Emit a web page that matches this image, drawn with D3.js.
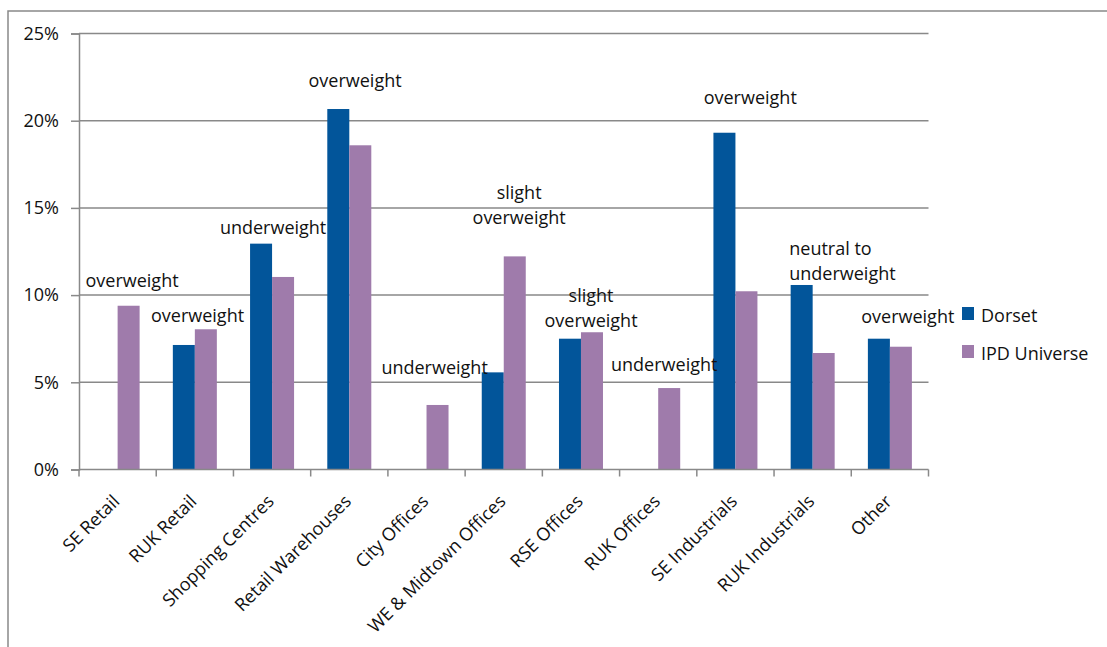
<!DOCTYPE html>
<html>
<head>
<meta charset="utf-8">
<script src="https://cdn.jsdelivr.net/npm/d3@7"></script>
<style>
  html, body { margin: 0; padding: 0; background: #fff; }
  svg { display: block; font-family: "Open Sans", sans-serif; }
</style>
</head>
<body>
<svg id="chart" width="1107" height="647"></svg>
<script>
// Portfolio weights by property sector
const categories = ["SE Retail", "RUK Retail", "Shopping Centres", "Retail Warehouses",
  "City Offices", "WE & Midtown Offices", "RSE Offices", "RUK Offices",
  "SE Industrials", "RUK Industrials", "Other"];
const seriesNames = ["Dorset", "IPD Universe"];
const dorset = [0, 7.14, 12.95, 20.67, 0, 5.57, 7.50, 0, 19.31, 10.58, 7.50];
const ipdUniverse = [9.39, 8.04, 11.04, 18.59, 3.70, 12.22, 7.87, 4.67, 10.22, 6.68, 7.04];
const yTicks = [0, 5, 10, 15, 20, 25];

// Positioning comments: x in category units (0 = left edge of first band), y in percent
const notes = [
  { lines: ["overweight"], x: 0.687, y: 10.87, anchor: "middle" },
  { lines: ["overweight"], x: 1.535, y: 8.86, anchor: "middle" },
  { lines: ["underweight"], x: 2.513, y: 13.90, anchor: "middle" },
  { lines: ["overweight"], x: 3.575, y: 22.33, anchor: "middle" },
  { lines: ["underweight"], x: 4.605, y: 5.89, anchor: "middle" },
  { lines: ["slight", "overweight"], x: 5.699, y: 15.91, anchor: "middle" },
  { lines: ["slight", "overweight"], x: 6.63, y: 10.0, anchor: "middle" },
  { lines: ["underweight"], x: 7.578, y: 6.05, anchor: "middle" },
  { lines: ["overweight"], x: 8.692, y: 21.38, anchor: "middle" },
  { lines: ["neutral to", "underweight"], x: 9.197, y: 12.70, anchor: "start" },
  { lines: ["overweight"], x: 10.732, y: 8.80, anchor: "middle" }
];

const colors = { "Dorset": "#02559a", "IPD Universe": "#9f7bab" };
const gridColor = "#898989";
const textColor = "#111";

const svg = d3.select("#chart");
const plotLeft = 79, plotRight = 928.5, plotTop = 33.5, plotBottom = 469.5;

// Outer chart border
svg.append("path")
  .attr("d", `M8,660 V11 H1120`)
  .attr("fill", "none").attr("stroke", gridColor).attr("stroke-width", 1.5);

const x = d3.scaleBand().domain(categories).range([plotLeft, plotRight]).padding(0);
const xs = d3.scaleBand().domain(seriesNames).range([0, x.bandwidth()]).paddingInner(0).paddingOuter(0.755);
const y = d3.scaleLinear().domain([0, 25]).range([plotBottom, plotTop]);
const xPos = d3.scaleLinear().domain([0, categories.length]).range([plotLeft, plotRight]);

// Horizontal gridlines
svg.append("g")
  .selectAll("line").data(yTicks.filter(t => t > 0)).join("line")
  .attr("x1", plotLeft).attr("x2", plotRight)
  .attr("y1", d => y(d)).attr("y2", d => y(d))
  .attr("stroke", gridColor).attr("stroke-width", 1.5);

// Y axis
const yAxis = svg.append("g").attr("transform", `translate(${plotLeft},0)`)
  .call(d3.axisLeft(y).tickValues(yTicks).tickFormat(d => d + "%").tickSize(8).tickPadding(12));
yAxis.select(".domain").attr("stroke", gridColor).attr("stroke-width", 1.5);
yAxis.selectAll(".tick line").attr("stroke", gridColor).attr("stroke-width", 1.5);
yAxis.selectAll(".tick text").attr("font-size", 18).attr("fill", textColor)
  .attr("font-family", "'Open Sans', sans-serif");

// Bars
const rows = categories.map((c, i) => ({ cat: c, values: [
  { s: "Dorset", v: dorset[i] }, { s: "IPD Universe", v: ipdUniverse[i] }] }));
svg.append("g")
  .selectAll("g").data(rows).join("g")
  .attr("transform", d => `translate(${x(d.cat)},0)`)
  .selectAll("rect").data(d => d.values.filter(e => e.v > 0)).join("rect")
  .attr("x", d => xs(d.s)).attr("width", xs.bandwidth())
  .attr("y", d => y(d.v)).attr("height", d => y(0) - y(d.v))
  .attr("fill", d => colors[d.s]);

// X axis with boundary ticks
const xg = svg.append("g");
xg.append("line").attr("x1", plotLeft).attr("x2", plotRight).attr("y1", plotBottom).attr("y2", plotBottom)
  .attr("stroke", gridColor).attr("stroke-width", 1.5);
xg.selectAll("line.tk").data(d3.range(categories.length + 1)).join("line")
  .attr("class", "tk")
  .attr("x1", d => xPos(d)).attr("x2", d => xPos(d))
  .attr("y1", plotBottom).attr("y2", plotBottom + 7)
  .attr("stroke", gridColor).attr("stroke-width", 1.5);
xg.selectAll("text").data(categories).join("text")
  .attr("transform", d => `translate(${x(d) + x.bandwidth() / 2 + 3},${plotBottom + 33}) rotate(-45)`)
  .attr("text-anchor", "end")
  .attr("font-size", 18).attr("fill", textColor)
  .text(d => d);

// Comment labels
const ng = svg.append("g").attr("font-size", 18).attr("fill", textColor);
notes.forEach(n => {
  const t = ng.append("text")
    .attr("x", xPos(n.x)).attr("y", y(n.y))
    .attr("text-anchor", n.anchor).attr("dominant-baseline", "central");
  n.lines.forEach((line, i) => {
    t.append("tspan").attr("x", xPos(n.x)).attr("dy", i === 0 ? 0 : 25).text(line);
  });
});

// Legend
const lg = svg.append("g").attr("transform", "translate(962,307)");
seriesNames.forEach((s, i) => {
  const g = lg.append("g").attr("transform", `translate(0,${i * 38})`);
  g.append("rect").attr("width", 12).attr("height", 13).attr("fill", colors[s]);
  g.append("text").attr("x", 19).attr("y", 7.5).attr("dominant-baseline", "central")
    .attr("font-size", 18).attr("fill", textColor).text(s);
});
</script>
</body>
</html>
